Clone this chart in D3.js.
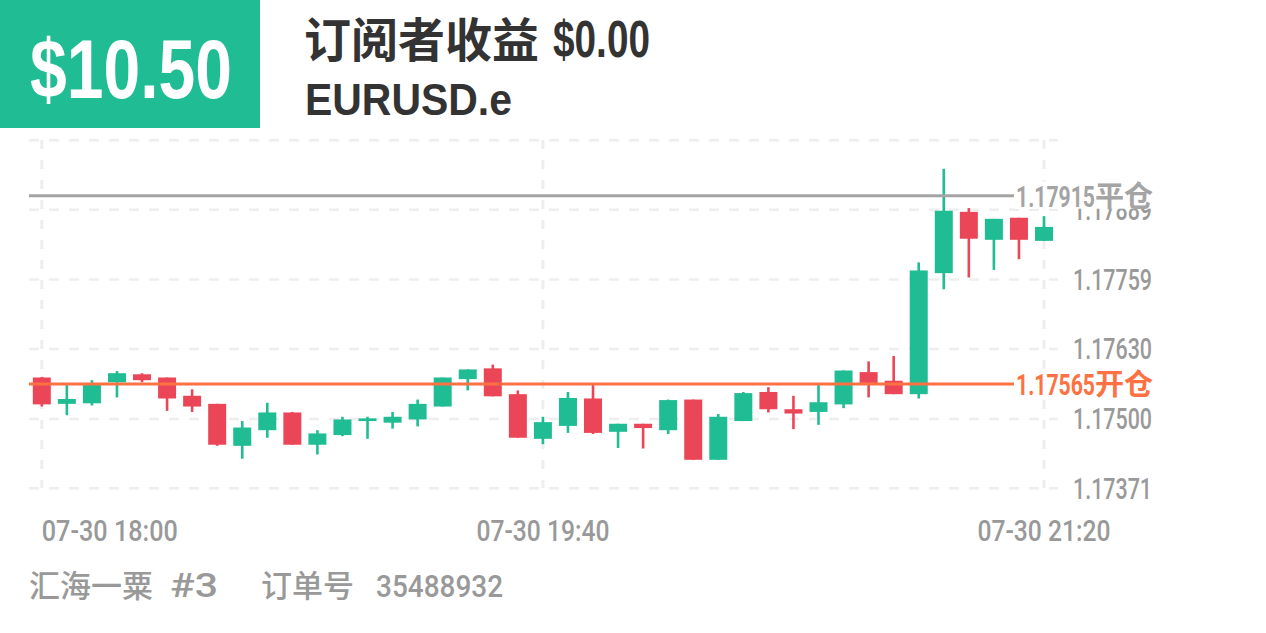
<!DOCTYPE html>
<html>
<head>
<meta charset="utf-8">
<script src="https://cdn.jsdelivr.net/npm/d3@7/dist/d3.min.js"></script>
<style>
  html, body { margin: 0; padding: 0; background: #ffffff; }
  svg { display: block; }
</style>
</head>
<body>
<svg id="chart" width="1266" height="633"></svg>
<script>
// ---------------- data ----------------
const times = ["18:00","18:05","18:10","18:15","18:20","18:25","18:30","18:35","18:40","18:45",
               "18:50","18:55","19:00","19:05","19:10","19:15","19:20","19:25","19:30","19:35",
               "19:40","19:45","19:50","19:55","20:00","20:05","20:10","20:15","20:20","20:25",
               "20:30","20:35","20:40","20:45","20:50","20:55","21:00","21:05","21:10","21:15","21:20"];
const openP  = [1.17577,1.17528,1.17529,1.17568,1.17583,1.17577,1.17543,1.17528,1.17450,1.17479,
                1.17512,1.17452,1.17470,1.17496,1.17493,1.17499,1.17523,1.17574,1.17594,1.17546,
                1.17463,1.17487,1.17538,1.17476,1.17491,1.17479,1.17536,1.17424,1.17496,1.17550,
                1.17518,1.17513,1.17527,1.17587,1.17571,1.17546,1.17771,1.17885,1.17833,1.17874,1.17831];
const highP  = [1.17578,1.17563,1.17572,1.17589,1.17585,1.17577,1.17555,1.17528,1.17496,1.17530,
                1.17513,1.17479,1.17504,1.17504,1.17513,1.17536,1.17577,1.17592,1.17601,1.17553,
                1.17504,1.17550,1.17564,1.17491,1.17491,1.17536,1.17536,1.17509,1.17550,1.17559,
                1.17543,1.17564,1.17590,1.17607,1.17617,1.17791,1.17965,1.17892,1.17872,1.17874,1.17877];
const lowP   = [1.17523,1.17507,1.17525,1.17540,1.17568,1.17515,1.17513,1.17450,1.17426,1.17465,
                1.17452,1.17434,1.17468,1.17463,1.17482,1.17486,1.17523,1.17553,1.17542,1.17465,
                1.17453,1.17474,1.17472,1.17446,1.17445,1.17472,1.17424,1.17424,1.17496,1.17512,
                1.17481,1.17489,1.17520,1.17540,1.17546,1.17538,1.17741,1.17763,1.17777,1.17797,1.17831];
const closeP = [1.17527,1.17537,1.17563,1.17585,1.17572,1.17538,1.17523,1.17452,1.17484,1.17512,
                1.17452,1.17473,1.17499,1.17501,1.17504,1.17528,1.17577,1.17592,1.17542,1.17465,
                1.17494,1.17539,1.17474,1.17491,1.17483,1.17535,1.17424,1.17504,1.17548,1.17518,
                1.17510,1.17531,1.17590,1.17567,1.17546,1.17776,1.17887,1.17835,1.17872,1.17833,1.17857];

const yTickValues = [1.17371, 1.17500, 1.17630, 1.17759, 1.17889, 1.18018];
const yTickLabels = ["1.17371","1.17500","1.17630","1.17759","1.17889",""];
const xTickTimes  = ["18:00","19:40","21:20"];
const xTickLabels = ["07-30 18:00","07-30 19:40","07-30 21:20"];

const openPrice  = 1.17565, openLabel  = "1.17565", openTag  = "开仓";
const closePrice = 1.17915, closeLabel = "1.17915", closeTag = "平仓";

const profitText = "$10.50";
const titleCJK = "订阅者收益";
const titleAmount = "$0.00";
const symbolText = "EURUSD.e";
const footerName = "汇海一粟", footerNum = "#3", footerOrder = "订单号", footerOrderNo = "35488932";

// ---------------- styles ----------------
const GREEN = "#20bc93", RED = "#eb4657", ORANGE = "#fd7142", GREYLINE = "#a4a4a4";
const GRID = "#eeeeee", LABEL = "#999999", DARK = "#333333";
const LATIN = "'Liberation Sans', Arial, 'Noto Sans CJK SC', sans-serif";
const AXISF = "Roboto, 'Liberation Sans', sans-serif";
const CJK = "'Noto Sans CJK SC', 'Liberation Sans', sans-serif";

const svg = d3.select("#chart");

// ---------------- scales ----------------
const parse = d3.timeParse("%H:%M");
const x = d3.scaleTime()
  .domain([parse("18:00"), parse("21:20")])
  .range([41.8, 1044]);
const y = d3.scaleLinear()
  .domain([yTickValues[0], yTickValues[yTickValues.length - 1]])
  .range([488.3, 140.3]);

// ---------------- header ----------------
svg.append("rect").attr("x", 0).attr("y", 0).attr("width", 260).attr("height", 128).attr("fill", GREEN);
svg.append("text").attr("x", 30).attr("y", 98)
  .attr("font-family", LATIN).attr("font-weight", "bold").attr("font-size", 84)
  .attr("fill", "#ffffff").attr("textLength", 202).attr("lengthAdjust", "spacingAndGlyphs")
  .text(profitText);

svg.append("text").attr("x", 304).attr("y", 57)
  .attr("font-family", CJK).attr("font-weight", "bold").attr("font-size", 47)
  .attr("fill", DARK).text(titleCJK);
svg.append("text").attr("x", 553).attr("y", 57)
  .attr("font-family", LATIN).attr("font-weight", "bold").attr("font-size", 52)
  .attr("fill", DARK).attr("textLength", 97).attr("lengthAdjust", "spacingAndGlyphs")
  .text(titleAmount);
svg.append("text").attr("x", 305).attr("y", 115)
  .attr("font-family", LATIN).attr("font-weight", "bold").attr("font-size", 45)
  .attr("fill", DARK).attr("textLength", 207).attr("lengthAdjust", "spacingAndGlyphs")
  .text(symbolText);

// ---------------- grid ----------------
const gridG = svg.append("g");
gridG.selectAll("line.h").data(yTickValues).enter().append("line")
  .attr("x1", 29).attr("x2", 1058)
  .attr("y1", d => y(d)).attr("y2", d => y(d))
  .attr("stroke", GRID).attr("stroke-width", 2.5).attr("stroke-dasharray", "10,10");
gridG.selectAll("line.v").data(xTickTimes).enter().append("line")
  .attr("x1", d => x(parse(d))).attr("x2", d => x(parse(d)))
  .attr("y1", 140).attr("y2", 488)
  .attr("stroke", GRID).attr("stroke-width", 3).attr("stroke-dasharray", "9,11");

// ---------------- y labels ----------------
svg.append("g").selectAll("text").data(yTickValues.map((v, i) => ({v, t: yTickLabels[i]})).filter(d => d.t))
  .enter().append("text")
  .attr("x", 1073).attr("y", d => y(d.v) + 10.5)
  .attr("font-family", AXISF).attr("font-weight", 500).attr("font-size", 29).attr("fill", LABEL)
  .attr("textLength", 79).attr("lengthAdjust", "spacingAndGlyphs")
  .text(d => d.t);

// ---------------- x labels ----------------
svg.append("g").selectAll("text").data(xTickTimes.map((t, i) => ({t, label: xTickLabels[i], i})))
  .enter().append("text")
  .attr("x", d => d.i === 0 ? x(parse(d.t)) : x(parse(d.t)) - 66.5)
  .attr("y", 541)
  .attr("font-family", AXISF).attr("font-weight", 500).attr("font-size", 29).attr("fill", LABEL)
  .attr("textLength", d => d.i === 0 ? 136 : 133).attr("lengthAdjust", "spacingAndGlyphs")
  .text(d => d.label);

// ---------------- candles ----------------
const candles = times.map((t, i) => ({t: parse(t), o: openP[i], h: highP[i], l: lowP[i], c: closeP[i]}));
const cg = svg.append("g").selectAll("g").data(candles).enter().append("g");
const colorOf = d => d.c >= d.o ? GREEN : RED;
cg.append("line")
  .attr("x1", d => x(d.t)).attr("x2", d => x(d.t))
  .attr("y1", d => y(d.h)).attr("y2", d => y(d.l))
  .attr("stroke", colorOf).attr("stroke-width", 2.6);
cg.append("rect")
  .attr("x", d => x(d.t) - 9).attr("width", 18)
  .attr("y", d => y(Math.max(d.o, d.c)))
  .attr("height", d => Math.max(2, Math.abs(y(d.o) - y(d.c))))
  .attr("fill", colorOf);

// ---------------- open / close lines ----------------
function priceLine(price, color, label, tag) {
  const yy = y(price);
  svg.append("line").attr("x1", 29).attr("x2", 1014).attr("y1", yy).attr("y2", yy)
    .attr("stroke", color).attr("stroke-width", 3);
  svg.append("rect").attr("x", 1015).attr("y", yy - 14).attr("width", 142).attr("height", 27)
    .attr("fill", "#ffffff");
  svg.append("text").attr("x", 1016).attr("y", yy + 11)
    .attr("font-family", AXISF).attr("font-weight", "bold").attr("font-size", 30)
    .attr("fill", color).attr("textLength", 79).attr("lengthAdjust", "spacingAndGlyphs")
    .text(label);
  svg.append("text").attr("x", 1095).attr("y", yy + 11)
    .attr("font-family", CJK).attr("font-weight", "bold").attr("font-size", 29)
    .attr("fill", color).text(tag);
}
priceLine(closePrice, GREYLINE, closeLabel, closeTag);
priceLine(openPrice, ORANGE, openLabel, openTag);

// ---------------- footer ----------------
svg.append("text").attr("x", 29).attr("y", 597)
  .attr("font-family", CJK).attr("font-weight", 500).attr("font-size", 31)
  .attr("fill", LABEL).text(footerName);
svg.append("text").attr("x", 170).attr("y", 597)
  .attr("font-family", AXISF).attr("font-weight", 500).attr("font-size", 33)
  .attr("fill", LABEL).attr("textLength", 48).attr("lengthAdjust", "spacingAndGlyphs")
  .text(footerNum);
svg.append("text").attr("x", 261).attr("y", 597)
  .attr("font-family", CJK).attr("font-weight", 500).attr("font-size", 31)
  .attr("fill", LABEL).text(footerOrder);
svg.append("text").attr("x", 376).attr("y", 597)
  .attr("font-family", AXISF).attr("font-weight", 500).attr("font-size", 32)
  .attr("fill", LABEL).attr("textLength", 127).attr("lengthAdjust", "spacingAndGlyphs")
  .text(footerOrderNo);
</script>
</body>
</html>
